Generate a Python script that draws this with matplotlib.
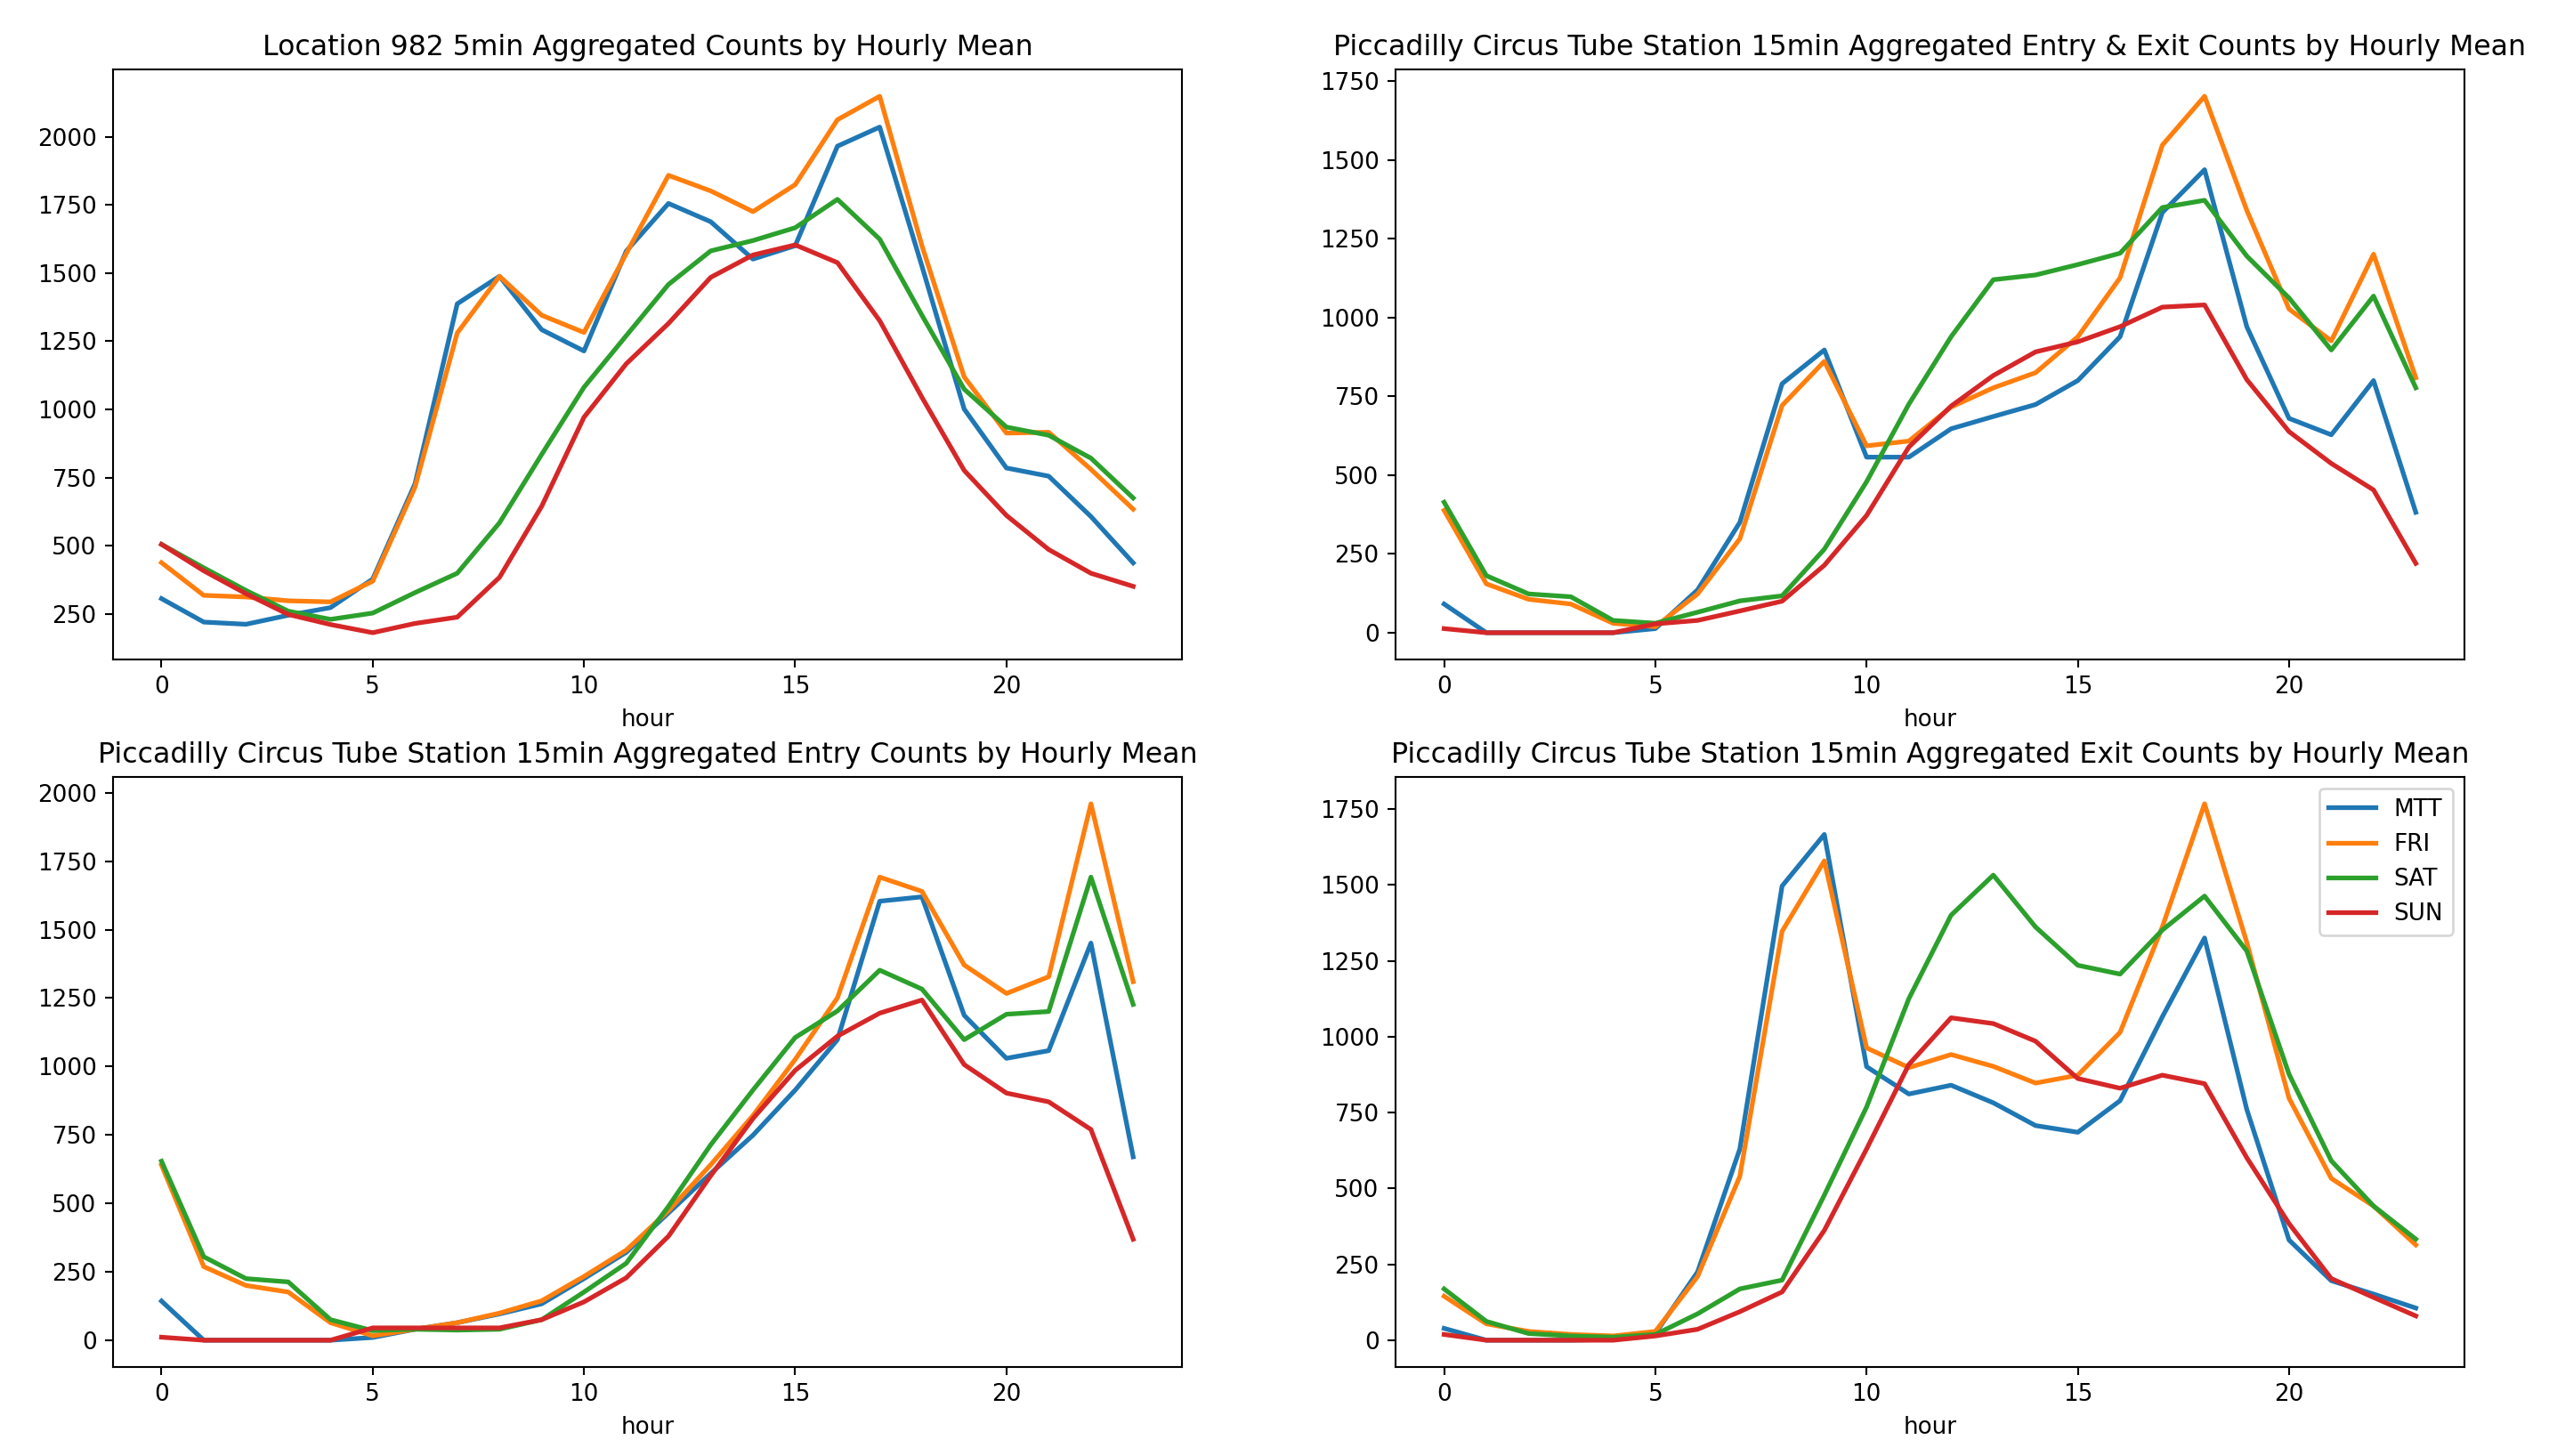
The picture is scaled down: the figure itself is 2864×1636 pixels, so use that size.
import matplotlib
matplotlib.use("Agg")
import matplotlib.pyplot as plt
import numpy as np

hours = list(range(24))
days = ["MTT", "FRI", "SAT", "SUN"]

# Location 982, 5min aggregated counts, hourly mean
loc_mtt = [306, 220, 212, 245, 273, 378, 727, 1387, 1488, 1292, 1214, 1580, 1755, 1688, 1551, 1600,
           1965, 2035, 1525, 1001, 785, 755, 607, 437]
loc_fri = [438, 318, 312, 298, 294, 370, 715, 1280, 1488, 1345, 1282, 1571, 1858, 1801, 1725, 1824,
           2062, 2148, 1600, 1119, 913, 916, 780, 634]
loc_sat = [505, 419, 336, 260, 230, 253, 328, 399, 584, 835, 1081, 1270, 1458, 1581, 1619, 1666,
           1770, 1624, 1345, 1074, 935, 905, 821, 675]
loc_sun = [505, 408, 324, 248, 211, 181, 215, 238, 384, 645, 971, 1167, 1315, 1484, 1566, 1603,
           1538, 1325, 1044, 776, 611, 486, 399, 351]

# Piccadilly Circus, entry & exit
both_mtt = [91, 0, 0, 0, 0, 13, 136, 350, 790, 897, 557, 557, 647, 686, 724, 800,
            939, 1333, 1469, 971, 680, 628, 800, 382]
both_fri = [388, 155, 106, 91, 30, 19, 123, 298, 721, 861, 593, 608, 716, 777, 825, 939,
            1126, 1547, 1702, 1340, 1027, 926, 1201, 809]
both_sat = [414, 181, 123, 114, 39, 30, 65, 101, 117, 265, 479, 725, 939, 1120, 1135, 1168,
            1204, 1349, 1372, 1195, 1062, 897, 1068, 777]
both_sun = [13, 0, 0, 0, 0, 28, 39, 69, 100, 214, 372, 589, 719, 816, 891, 923,
            971, 1033, 1040, 803, 638, 537, 453, 220]

# Piccadilly Circus, entry
entry_mtt = [143, 0, 0, 0, 0, 10, 40, 64, 96, 133, 225, 321, 465, 609, 749, 914,
             1098, 1604, 1620, 1187, 1030, 1058, 1451, 670]
entry_fri = [640, 269, 200, 176, 64, 16, 40, 64, 99, 144, 233, 329, 473, 641, 821, 1026,
             1251, 1692, 1640, 1371, 1267, 1328, 1960, 1310]
entry_sat = [654, 305, 225, 213, 75, 35, 40, 37, 40, 75, 176, 281, 489, 714, 914, 1106,
             1203, 1352, 1283, 1098, 1191, 1201, 1692, 1227]
entry_sun = [11, 0, 0, 0, 0, 45, 45, 45, 45, 75, 140, 228, 380, 601, 810, 986,
             1111, 1195, 1243, 1007, 903, 871, 770, 369]

# Piccadilly Circus, exit
exit_mtt = [39, 0, 0, 0, 3, 22, 225, 630, 1496, 1666, 901, 811, 840, 782, 707, 685,
            789, 1065, 1325, 760, 330, 196, 152, 106]
exit_fri = [145, 54, 29, 19, 14, 29, 210, 540, 1347, 1579, 963, 898, 941, 902, 847, 873,
            1014, 1361, 1767, 1310, 797, 533, 442, 314]
exit_sat = [169, 62, 22, 14, 10, 19, 87, 169, 198, 478, 768, 1125, 1400, 1532, 1361, 1235,
            1206, 1351, 1463, 1282, 876, 591, 442, 333]
exit_sun = [19, 0, 0, 0, 0, 14, 36, 94, 159, 362, 630, 908, 1062, 1043, 985, 862,
            830, 873, 845, 601, 384, 203, 141, 80]

panels = [
    ("Location 982 5min Aggregated Counts by Hourly Mean", [loc_mtt, loc_fri, loc_sat, loc_sun]),
    ("Piccadilly Circus Tube Station 15min Aggregated Entry & Exit Counts by Hourly Mean",
     [both_mtt, both_fri, both_sat, both_sun]),
    ("Piccadilly Circus Tube Station 15min Aggregated Entry Counts by Hourly Mean",
     [entry_mtt, entry_fri, entry_sat, entry_sun]),
    ("Piccadilly Circus Tube Station 15min Aggregated Exit Counts by Hourly Mean",
     [exit_mtt, exit_fri, exit_sat, exit_sun]),
]

DPI = 189
fig, axes = plt.subplots(2, 2, figsize=(2864 / DPI, 1636 / DPI), dpi=DPI)
fig.subplots_adjust(left=0.0443, right=0.9668, top=0.9523, bottom=0.0611, wspace=0.2, hspace=0.199)

for ax, (title, series) in zip(axes.flat, panels):
    for day, vals in zip(days, series):
        ax.plot(hours, vals, lw=2, label=day)
    ax.set_title(title)
    ax.set_xlabel("hour")

axes[1, 1].legend(loc="upper right")

fig.savefig("out.png", dpi=DPI)
